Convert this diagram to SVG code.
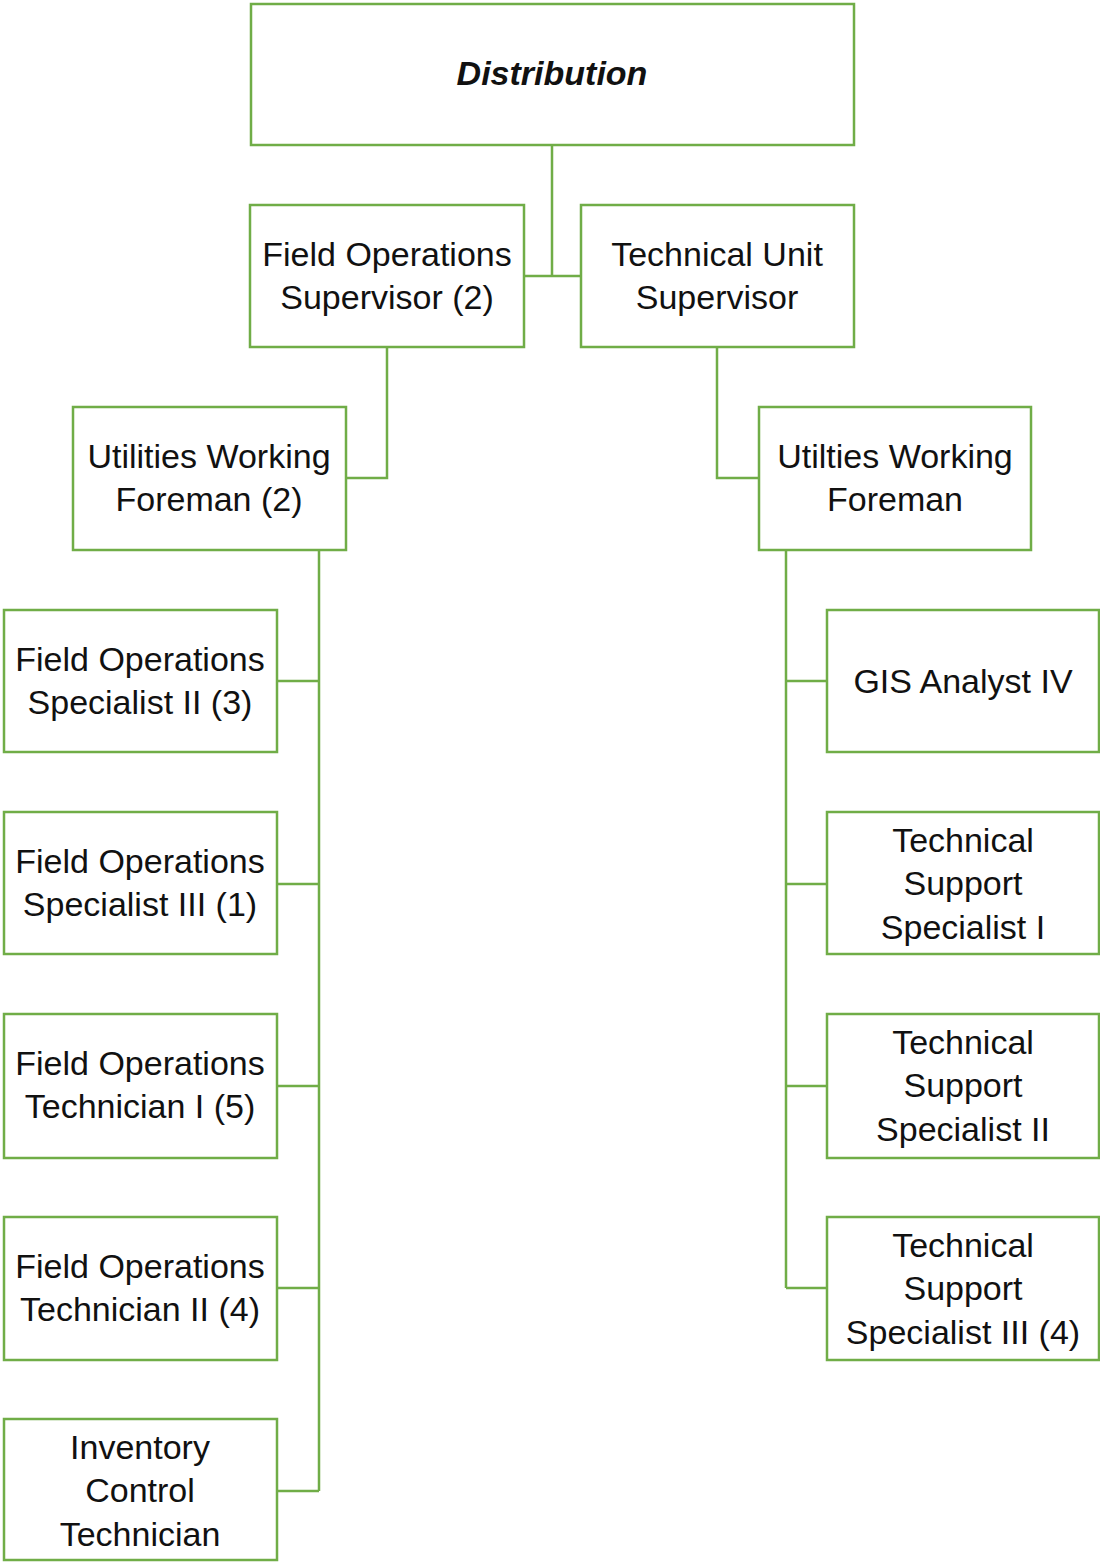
<svg xmlns="http://www.w3.org/2000/svg" width="1100" height="1562" viewBox="0 0 1100 1562">
<style>
.box{fill:#fff;stroke:#70AD47;stroke-width:2.5}
.con{fill:none;stroke:#70AD47;stroke-width:2.5}
text{font-family:"Liberation Sans",Arial,sans-serif;font-size:34px;fill:#111;text-anchor:middle}
.title{font-weight:bold;font-style:italic}
</style>
<rect width="1100" height="1562" fill="#fff"/>
<g id="connectors">
<path class="con" d="M552 145V276M524 276H581"/>
<path class="con" d="M387 347V478H346"/>
<path class="con" d="M717 347V478H759"/>
<path class="con" d="M319 550V1491M277 681H319M277 884H319M277 1086H319M277 1288H319M277 1491H319"/>
<path class="con" d="M786 550V1288M786 681H827M786 884H827M786 1086H827M786 1288H827"/>
</g>
<g id="distribution"><rect class="box" x="251" y="4" width="603" height="141"/><text class="title" x="552" y="85">Distribution</text></g>
<g id="field-ops-supervisor"><rect class="box" x="250" y="205" width="274" height="142"/><text x="387" y="266">Field Operations</text><text x="387" y="309">Supervisor (2)</text></g>
<g id="technical-unit-supervisor"><rect class="box" x="581" y="205" width="273" height="142"/><text x="717" y="266">Technical Unit</text><text x="717" y="309">Supervisor</text></g>
<g id="utilities-foreman-left"><rect class="box" x="73" y="407" width="273" height="143"/><text x="209" y="468">Utilities Working</text><text x="209" y="511">Foreman (2)</text></g>
<g id="utilities-foreman-right"><rect class="box" x="759" y="407" width="272" height="143"/><text x="895" y="468">Utilties Working</text><text x="895" y="511">Foreman</text></g>
<g id="fos2"><rect class="box" x="4" y="610" width="273" height="142"/><text x="140" y="671">Field Operations</text><text x="140" y="714">Specialist II (3)</text></g>
<g id="fos3"><rect class="box" x="4" y="812" width="273" height="142"/><text x="140" y="873">Field Operations</text><text x="140" y="916">Specialist III (1)</text></g>
<g id="fot1"><rect class="box" x="4" y="1014" width="273" height="144"/><text x="140" y="1075">Field Operations</text><text x="140" y="1118">Technician I (5)</text></g>
<g id="fot2"><rect class="box" x="4" y="1217" width="273" height="143"/><text x="140" y="1278">Field Operations</text><text x="140" y="1321">Technician II (4)</text></g>
<g id="ict"><rect class="box" x="4" y="1419" width="273" height="141"/><text x="140" y="1459">Inventory</text><text x="140" y="1502">Control</text><text x="140" y="1546">Technician</text></g>
<g id="gis"><rect class="box" x="827" y="610" width="272" height="142"/><text x="963" y="693">GIS Analyst IV</text></g>
<g id="tss1"><rect class="box" x="827" y="812" width="272" height="142"/><text x="963" y="852">Technical</text><text x="963" y="895">Support</text><text x="963" y="939">Specialist I</text></g>
<g id="tss2"><rect class="box" x="827" y="1014" width="272" height="144"/><text x="963" y="1054">Technical</text><text x="963" y="1097">Support</text><text x="963" y="1141">Specialist II</text></g>
<g id="tss3"><rect class="box" x="827" y="1217" width="272" height="143"/><text x="963" y="1257">Technical</text><text x="963" y="1300">Support</text><text x="963" y="1344">Specialist III (4)</text></g>
</svg>
